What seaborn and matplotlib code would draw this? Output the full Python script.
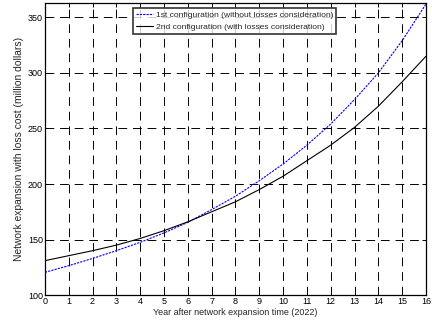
import matplotlib
matplotlib.use("Agg")
import matplotlib.pyplot as plt
import numpy as np
import pandas as pd
import seaborn as sns

years = list(range(0, 17))
config1 = [120.5, 126.5, 133, 140, 147.5, 156, 165.5, 177, 189, 203,
           218, 235, 254, 276, 300, 329, 362]
config2 = [131, 135.5, 140, 145, 151, 158, 166, 175, 184, 195,
           207, 221, 235, 251, 270, 292, 315]
label1 = "1st configuration (without losses consideration)"
label2 = "2nd configuration (with losses consideration)"

df = pd.DataFrame({"year": years, label1: config1, label2: config2})
df = df.melt(id_vars="year", var_name="config", value_name="cost")

sns.set_style("white")
plt.rcParams["font.family"] = ["Liberation Sans", "DejaVu Sans"]
plt.rcParams["font.size"] = 6.5

fig = plt.figure(figsize=(4.32, 3.29), dpi=100)
ax = fig.add_axes([0.104, 0.103, 0.882, 0.888])

sns.lineplot(
    data=df, x="year", y="cost", hue="config", style="config",
    palette={label1: "blue", label2: "black"},
    dashes={label1: (2, 1), label2: ""},
    linewidth=0.8, ax=ax,
)

ax.set_xlim(0, 16)
ax.set_ylim(100, 363)
ax.set_xticks(range(0, 17))
ax.set_yticks(range(100, 351, 50))
ax.grid(True, color="black", linestyle=(0, (9, 6)), linewidth=0.7)
ax.tick_params(direction="in", length=3, width=0.7, top=True, right=True,
               pad=1.5, labelsize=6.5, colors="black")
for s in ax.spines.values():
    s.set_color("black")
    s.set_linewidth(0.9)

ax.set_xlabel("Year after network expansion time (2022)", labelpad=1)
ax.set_ylabel("Network expansion with loss cost (million dollars)",
              labelpad=3, fontsize=7.4)

leg = ax.legend(loc="upper left", bbox_to_anchor=(0.232, 0.982), frameon=True,
                fancybox=False, fontsize=6.1, handlelength=2.0,
                handletextpad=0.3, borderpad=0.35, labelspacing=0.45,
                borderaxespad=0)
leg.set_title(None)
leg.get_frame().set_edgecolor("black")
leg.get_frame().set_linewidth(1.2)

fig.savefig("out.png", dpi=100)
